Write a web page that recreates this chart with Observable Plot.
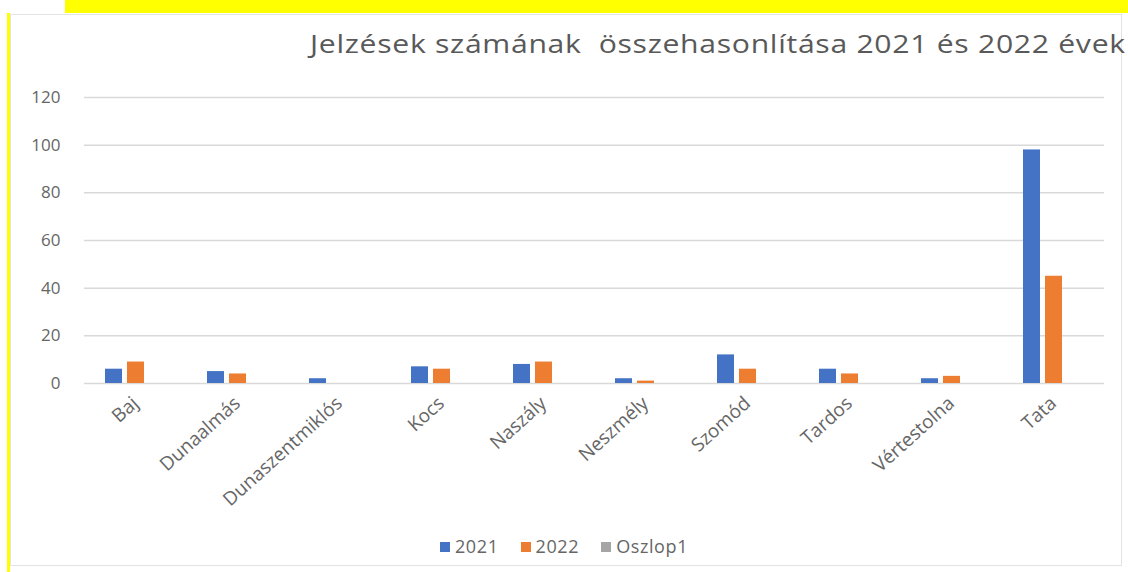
<!DOCTYPE html>
<html>
<head>
<meta charset="utf-8">
<script src="https://cdn.jsdelivr.net/npm/d3@7"></script>
<script src="https://cdn.jsdelivr.net/npm/@observablehq/plot@0.6"></script>
<style>
  html, body { margin: 0; padding: 0; background: #fff; }
  #wrap { position: relative; width: 1128px; height: 572px; overflow: hidden; background: #fff; font-family: "Open Sans", sans-serif; }
  .topbar { position: absolute; left: 65px; top: 0; width: 1063px; height: 13px; background: #ffff00; }
  .leftbar { position: absolute; left: 7px; top: 13px; width: 3px; height: 559px; background: #ffff00; }
  .frame { position: absolute; left: 10px; top: 14px; width: 1112px; height: 552px; border: 1px solid #e3e3e3; box-sizing: border-box; }
  #title { position: absolute; left: 310px; top: 25px; font-size: 26px; color: #595959; white-space: pre; letter-spacing: 0.6px; transform: scaleX(1.16); transform-origin: 0 0; }
  #chart { position: absolute; left: 0; top: 0; }
  #legend { position: absolute; top: 534px; left: 0; width: 1128px; text-align: center; font-size: 18px; color: #666; letter-spacing: 0.6px; }
  #legend span.item { display: inline-block; margin: 0 11px; }
  #legend span.sw { display: inline-block; width: 10px; height: 10px; margin-right: 5px; vertical-align: 1px; }
</style>
</head>
<body>
<div id="wrap">
  <div class="topbar"></div>
  <div class="leftbar"></div>
  <div class="frame"></div>
  <div id="chart"></div>
  <div id="title"></div>
  <div id="legend"></div>
</div>
<script>
const titleText = "Jelzések számának  összehasonlítása 2021 és 2022 évek";
const categories = ["Baj", "Dunaalmás", "Dunaszentmiklós", "Kocs", "Naszály", "Neszmély", "Szomód", "Tardos", "Vértestolna", "Tata"];
const series = ["2021", "2022", "Oszlop1"];
const values2021 = [6, 5, 2, 7, 8, 2, 12, 6, 2, 98];
const values2022 = [9, 4, 0, 6, 9, 1, 6, 4, 3, 45];
const valuesOszlop1 = [];
const seriesColors = ["#4472C4", "#ED7D31", "#A5A5A5"];
const yTicks = [0, 20, 40, 60, 80, 100, 120];

const rows = [];
categories.forEach((c, i) => {
  rows.push({cat: c, series: "2021", value: values2021[i]});
  rows.push({cat: c, series: "2022", value: values2022[i]});
  if (valuesOszlop1[i] != null) rows.push({cat: c, series: "Oszlop1", value: valuesOszlop1[i]});
});

document.getElementById("title").textContent = titleText;

const chart = Plot.plot({
  width: 1128,
  height: 520,
  marginLeft: 84,
  marginRight: 24,
  marginTop: 97,
  marginBottom: 137,
  style: {fontFamily: "'Open Sans', sans-serif", fontSize: "17px", color: "#666", background: "transparent"},
  fx: {domain: categories, padding: 0, label: null, axis: null},
  x: {domain: series, paddingInner: 0.24, paddingOuter: 0.86, axis: null},
  y: {domain: [0, 120], ticks: yTicks, label: null, tickSize: 0, tickPadding: 24, grid: false},
  color: {domain: series, range: seriesColors},
  marks: [
    Plot.gridY(yTicks, {stroke: "#d9d9d9", strokeOpacity: 1, strokeWidth: 1.5}),
    Plot.barY(rows, {fx: "cat", x: "series", y: "value", fill: "series"}),
    Plot.axisFx({anchor: "bottom", tickRotate: -42, tickSize: 0, tickPadding: 17, fontSize: 19, label: null})
  ]
});
document.getElementById("chart").appendChild(chart);

const legend = document.getElementById("legend");
series.forEach((s, i) => {
  const item = document.createElement("span");
  item.className = "item";
  const sw = document.createElement("span");
  sw.className = "sw";
  sw.style.background = seriesColors[i];
  item.appendChild(sw);
  item.appendChild(document.createTextNode(s));
  legend.appendChild(item);
});
</script>
</body>
</html>
